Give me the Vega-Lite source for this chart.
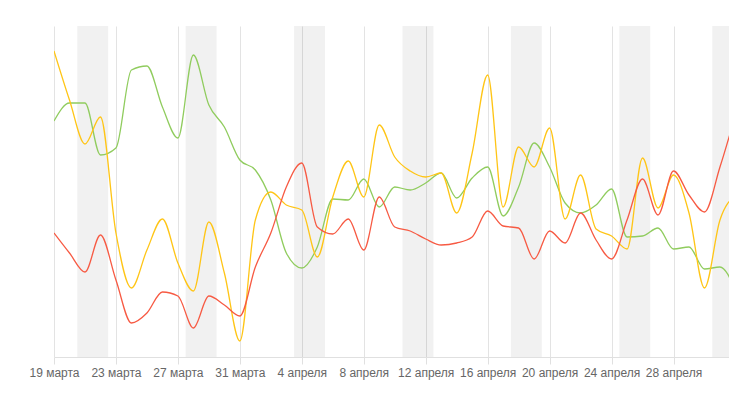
{
  "$schema": "https://vega.github.io/schema/vega-lite/v6.json",
  "width": 675,
  "height": 331,
  "autosize": {"type": "none"},
  "padding": {"left": 54, "top": 26, "right": 0, "bottom": 48},
  "background": "white",
  "datasets": {
    "weekends": [
      {"start": "2015-03-20T12:00:00Z", "end": "2015-03-22T12:00:00Z"},
      {"start": "2015-03-27T12:00:00Z", "end": "2015-03-29T12:00:00Z"},
      {"start": "2015-04-03T12:00:00Z", "end": "2015-04-05T12:00:00Z"},
      {"start": "2015-04-10T12:00:00Z", "end": "2015-04-12T12:00:00Z"},
      {"start": "2015-04-17T12:00:00Z", "end": "2015-04-19T12:00:00Z"},
      {"start": "2015-04-24T12:00:00Z", "end": "2015-04-26T12:00:00Z"},
      {"start": "2015-04-30T12:00:00Z", "end": "2015-05-03T12:00:00Z"}
    ],
    "daily": [
      {"date": "2015-03-19", "red": 124, "yellow": 306, "green": 236},
      {"date": "2015-03-20", "red": 104, "yellow": 257, "green": 254},
      {"date": "2015-03-21", "red": 85, "yellow": 213, "green": 254},
      {"date": "2015-03-22", "red": 122, "yellow": 240, "green": 202},
      {"date": "2015-03-23", "red": 77, "yellow": 124, "green": 209},
      {"date": "2015-03-24", "red": 34, "yellow": 69, "green": 287},
      {"date": "2015-03-25", "red": 44, "yellow": 107, "green": 291},
      {"date": "2015-03-26", "red": 65, "yellow": 138, "green": 250},
      {"date": "2015-03-27", "red": 61, "yellow": 94, "green": 219},
      {"date": "2015-03-28", "red": 29, "yellow": 66, "green": 302},
      {"date": "2015-03-29", "red": 61, "yellow": 135, "green": 252},
      {"date": "2015-03-30", "red": 52, "yellow": 84, "green": 230},
      {"date": "2015-03-31", "red": 41, "yellow": 16, "green": 197},
      {"date": "2015-04-01", "red": 90, "yellow": 137, "green": 187},
      {"date": "2015-04-02", "red": 124, "yellow": 165, "green": 157},
      {"date": "2015-04-03", "red": 170, "yellow": 152, "green": 104},
      {"date": "2015-04-04", "red": 194, "yellow": 147, "green": 89},
      {"date": "2015-04-05", "red": 130, "yellow": 100, "green": 110},
      {"date": "2015-04-06", "red": 123, "yellow": 160, "green": 158},
      {"date": "2015-04-07", "red": 138, "yellow": 196, "green": 157},
      {"date": "2015-04-08", "red": 107, "yellow": 160, "green": 178},
      {"date": "2015-04-09", "red": 160, "yellow": 232, "green": 150},
      {"date": "2015-04-10", "red": 130, "yellow": 200, "green": 170},
      {"date": "2015-04-11", "red": 126, "yellow": 186, "green": 167},
      {"date": "2015-04-12", "red": 118, "yellow": 180, "green": 174},
      {"date": "2015-04-13", "red": 112, "yellow": 184, "green": 184},
      {"date": "2015-04-14", "red": 114, "yellow": 144, "green": 159},
      {"date": "2015-04-15", "red": 120, "yellow": 204, "green": 179},
      {"date": "2015-04-16", "red": 146, "yellow": 282, "green": 190},
      {"date": "2015-04-17", "red": 131, "yellow": 150, "green": 141},
      {"date": "2015-04-18", "red": 129, "yellow": 210, "green": 170},
      {"date": "2015-04-19", "red": 98, "yellow": 190, "green": 214},
      {"date": "2015-04-20", "red": 126, "yellow": 229, "green": 190},
      {"date": "2015-04-21", "red": 114, "yellow": 138, "green": 154},
      {"date": "2015-04-22", "red": 144, "yellow": 182, "green": 144},
      {"date": "2015-04-23", "red": 117, "yellow": 128, "green": 152},
      {"date": "2015-04-24", "red": 98, "yellow": 121, "green": 168},
      {"date": "2015-04-25", "red": 137, "yellow": 108, "green": 120},
      {"date": "2015-04-26", "red": 178, "yellow": 199, "green": 121},
      {"date": "2015-04-27", "red": 142, "yellow": 149, "green": 129},
      {"date": "2015-04-28", "red": 186, "yellow": 182, "green": 108},
      {"date": "2015-04-29", "red": 162, "yellow": 144, "green": 110},
      {"date": "2015-04-30", "red": 145, "yellow": 69, "green": 88},
      {"date": "2015-05-01", "red": 190, "yellow": 137, "green": 90},
      {"date": "2015-05-02", "red": 242, "yellow": 162, "green": 67}
    ]
  },
  "layer": [
    {
      "data": {"name": "weekends"},
      "mark": {"type": "rect", "color": "#000000", "opacity": 0.055, "clip": true},
      "encoding": {
        "x": {
          "field": "start",
          "type": "temporal",
          "scale": {
            "type": "utc",
            "domain": [
              {"year": 2015, "month": 3, "date": 19, "utc": true},
              {"year": 2015, "month": 5, "date": 1, "hours": 14, "utc": true}
            ]
          }
        },
        "x2": {"field": "end"}
      }
    },
    {
      "data": {"name": "daily"},
      "transform": [
        {"fold": ["green", "yellow", "red"], "as": ["series", "value"]}
      ],
      "mark": {"type": "line", "interpolate": "monotone", "strokeWidth": 1.3, "clip": true},
      "encoding": {
        "x": {
          "field": "date",
          "type": "temporal",
          "scale": {
            "type": "utc",
            "domain": [
              {"year": 2015, "month": 3, "date": 19, "utc": true},
              {"year": 2015, "month": 5, "date": 1, "hours": 14, "utc": true}
            ]
          },
          "axis": {
            "title": null,
            "values": [
              {"year": 2015, "month": 3, "date": 19, "utc": true},
              {"year": 2015, "month": 3, "date": 23, "utc": true},
              {"year": 2015, "month": 3, "date": 27, "utc": true},
              {"year": 2015, "month": 3, "date": 31, "utc": true},
              {"year": 2015, "month": 4, "date": 4, "utc": true},
              {"year": 2015, "month": 4, "date": 8, "utc": true},
              {"year": 2015, "month": 4, "date": 12, "utc": true},
              {"year": 2015, "month": 4, "date": 16, "utc": true},
              {"year": 2015, "month": 4, "date": 20, "utc": true},
              {"year": 2015, "month": 4, "date": 24, "utc": true},
              {"year": 2015, "month": 4, "date": 28, "utc": true},
              {"year": 2015, "month": 5, "date": 2, "utc": true}
            ],
            "labelExpr": "utcdate(datum.value) + ' ' + (utcmonth(datum.value) == 2 ? 'марта' : utcmonth(datum.value) == 3 ? 'апреля' : 'мая')",
            "grid": true,
            "gridColor": "#e3e3e3",
            "domainColor": "#e0e0e0",
            "tickColor": "#e0e0e0",
            "tickSize": 7,
            "labelPadding": 3,
            "labelColor": "#666666",
            "labelFont": "Liberation Sans",
            "labelFontSize": 12,
            "labelOverlap": false,
            "labelBound": false,
            "labelFlush": false
          }
        },
        "y": {"field": "value", "type": "quantitative", "scale": {"domain": [0, 331], "nice": false, "zero": false}, "axis": null},
        "color": {
          "field": "series",
          "type": "nominal",
          "scale": {"domain": ["green", "yellow", "red"], "range": ["#90cc5e", "#ffc516", "#f75a43"]},
          "legend": null
        }
      }
    }
  ],
  "resolve": {"scale": {"x": "shared"}},
  "config": {"view": {"stroke": null}}
}
